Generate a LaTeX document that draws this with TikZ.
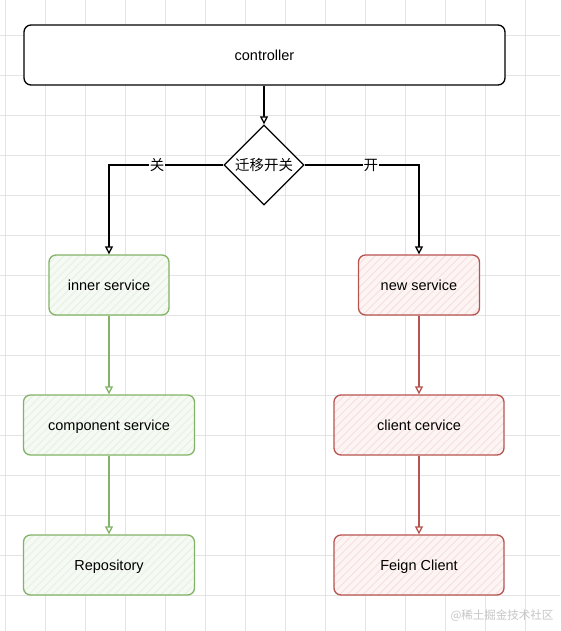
\documentclass[tikz,border=0pt]{standalone}
\usepackage{fontspec}
\usepackage{xcolor}
\usetikzlibrary{arrows.meta}
\usetikzlibrary{positioning}
\usetikzlibrary{shapes.geometric}
\usetikzlibrary{patterns.meta}
\setmainfont{Liberation Sans}
\newfontfamily\cjk{Noto Sans CJK SC}
\definecolor{gridgray}{HTML}{E4E4E4}
\definecolor{leafline}{HTML}{82B366}
\definecolor{leaffill}{HTML}{F6FAF4}
\definecolor{leafhatch}{HTML}{E8F2E3}
\definecolor{rustline}{HTML}{B85450}
\definecolor{rustfill}{HTML}{FDF5F4}
\definecolor{rusthatch}{HTML}{F7E2E0}

\tikzset{
	box/.style={draw, rounded corners=7pt, minimum height=60pt, inner sep=0pt,
		text height=11pt, text depth=0pt, font=\fontsize{14.5}{17}\selectfont},
	greenbox/.style={box, draw=leafline, line width=1.3pt, preaction={fill=leaffill},
		preaction={pattern={Lines[angle=45, distance=5.5pt, line width=1.1pt]}, pattern color=leafhatch}},
	redbox/.style={box, draw=rustline, line width=1.3pt, preaction={fill=rustfill},
		preaction={pattern={Lines[angle=45, distance=5.5pt, line width=1.1pt]}, pattern color=rusthatch}},
	flow/.style={line width=1.3pt, -{Triangle[length=8pt, width=8pt, fill=white]}},
	switchlabel/.style={fill=white, inner sep=1pt, font=\cjk\fontsize{14.5}{17}\selectfont},
}

\begin{document}
\begin{tikzpicture}[x=1pt, y=-1pt]
		\fill[white] (0,0) rectangle (560,631);
		\useasboundingbox (0,0) rectangle (560,631);
		\foreach \gx in {5,45,...,525}
			\draw[gridgray, line width=0.8pt] (\gx,0) -- (\gx,631);
		\foreach \gy in {35,75,...,595}
			\draw[gridgray, line width=0.8pt] (0,\gy) -- (560,\gy);

		\node[box, fill=white, line width=1.3pt, minimum width=481pt] (controller) at (264.5,55) {controller};
		\node[draw, diamond, fill=white, line width=1.3pt, inner sep=0pt, minimum size=80pt,
			font=\cjk\fontsize{14.5}{17}\selectfont] (switch) at (264,165) {迁移开关};

		\node[greenbox, minimum width=120pt] (inner) at (109,285) {inner service};
		\node[greenbox, minimum width=171pt] (component) at (109,425) {component service};
		\node[greenbox, minimum width=171pt] (repo) at (109,565) {Repository};

		\node[redbox, minimum width=121pt] (newsvc) at (419,285) {new service};
		\node[redbox, minimum width=170pt] (client) at (419,425) {client cervice};
		\node[redbox, minimum width=170pt] (feign) at (419,565) {Feign Client};

		\draw[flow] (controller.south -| switch.north) -- (switch.north);
		\draw[flow] (switch.west) -| node[switchlabel, pos=0.29] {关} (inner.north);
		\draw[flow] (switch.east) -| node[switchlabel, pos=0.29] {开} (newsvc.north);

		\draw[flow, leafline] (inner) -- (component);
		\draw[flow, leafline] (component) -- (repo);
		\draw[flow, rustline] (newsvc) -- (client);
		\draw[flow, rustline] (client) -- (feign);

		\node[text=gray!45, font=\cjk\fontsize{11.5}{13}\selectfont] (mark) at (502,616) {@稀土掘金技术社区};
	\end{tikzpicture}
\end{document}
